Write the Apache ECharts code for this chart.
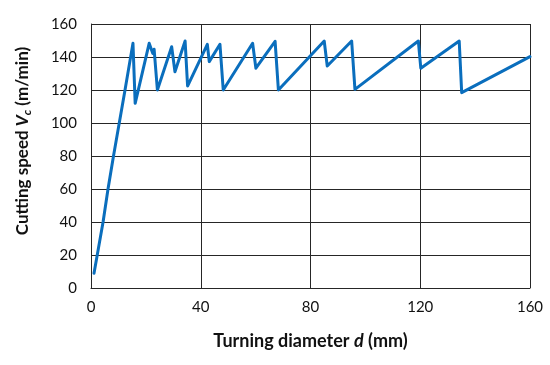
<!DOCTYPE html>
<html>
<head>
<meta charset="utf-8">
<script src="https://cdn.jsdelivr.net/npm/echarts@6/dist/echarts.min.js"></script>
<style>
html,body{margin:0;padding:0;background:#fff;}
#chart{width:550px;height:365px;}
</style>
</head>
<body>
<div id="chart"></div>
<script>
// Turning diameter d (mm)
const diameters = [1.1, 4.4, 6.2, 8.2, 10.3, 12.4, 15.3, 16.1, 21.2, 22.5, 23.0, 24.2, 29.4, 30.6, 34.3, 35.2, 42.4, 43.1, 47.0, 48.2, 58.9, 60.1, 67.1, 68.3, 85.0, 86.1, 95.0, 96.2, 119.3, 120.2, 134.2, 135.1, 160];
// Cutting speed Vc (m/min)
const speeds = [9, 40, 60, 80, 100, 120, 148.3, 111.9, 148.3, 142.2, 144.7, 120, 146.2, 131.1, 149.7, 122.4, 147.7, 137.2, 147.7, 120, 148.3, 133.2, 149.5, 120, 149.7, 134.5, 149.7, 120.4, 149.7, 133.2, 149.7, 118.4, 140.2];
const xTicks = [0, 40, 80, 120, 160];
const yTicks = [0, 20, 40, 60, 80, 100, 120, 140, 160];

const chart = echarts.init(document.getElementById('chart'), null, {renderer: 'canvas'});
const font = 'Lato, "Open Sans", sans-serif';
const gridLine = {show: true, lineStyle: {color: '#262626', width: 1}};
chart.setOption({
  animation: false,
  backgroundColor: '#fff',
  grid: {left: 91, right: 20, top: 24, bottom: 77, containLabel: false},
  xAxis: {
    type: 'value', min: xTicks[0], max: xTicks[xTicks.length - 1], interval: 40,
    axisLine: {show: true, lineStyle: {color: '#262626', width: 1}},
    axisTick: {show: false},
    splitLine: gridLine,
    axisLabel: {color: '#111', fontFamily: font, fontSize: 15, margin: 12},
    name: '{b|Turning diameter }{i|d}{b| (mm)}',
    nameLocation: 'middle', nameGap: 44,
    nameTextStyle: {
      rich: {
        b: {fontFamily: font, fontWeight: 'bold', fontSize: 18, color: '#111'},
        i: {fontFamily: font, fontWeight: 'bold', fontStyle: 'italic', fontSize: 18, color: '#111'}
      }
    }
  },
  yAxis: {
    type: 'value', min: yTicks[0], max: yTicks[yTicks.length - 1], interval: 20,
    axisLine: {show: true, lineStyle: {color: '#262626', width: 1}},
    axisTick: {show: false},
    splitLine: gridLine,
    axisLabel: {color: '#111', fontFamily: font, fontSize: 15, margin: 14},
    name: '{b|Cutting speed }{i|V}{s|c}{b| (m/min)}',
    nameLocation: 'middle', nameGap: 58,
    nameTextStyle: {
      padding: [0, 0, 0, 30],
      rich: {
        b: {fontFamily: font, fontWeight: 'bold', fontSize: 17, color: '#111'},
        i: {fontFamily: font, fontWeight: 'bold', fontStyle: 'italic', fontSize: 17, color: '#111'},
        s: {fontFamily: font, fontWeight: 'bold', fontStyle: 'italic', fontSize: 12, color: '#111', padding: [8, 0, 0, 0]}
      }
    }
  },
  series: [{
    type: 'line',
    data: diameters.map((d, i) => [d, speeds[i]]),
    showSymbol: false,
    symbol: 'none',
    lineStyle: {color: '#0A6EBD', width: 3, join: 'round', cap: 'round'},
    z: 5
  }]
});
</script>
</body>
</html>
